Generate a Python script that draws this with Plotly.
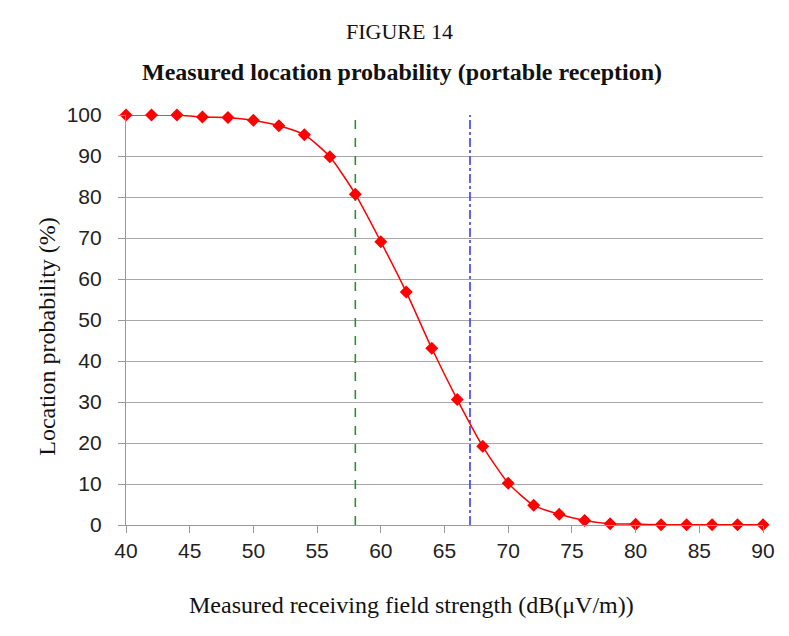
import plotly.graph_objects as go

field_strength = [40, 42, 44, 46, 48, 50, 52, 54, 56, 58, 60, 62, 64, 66, 68,
                  70, 72, 74, 76, 78, 80, 82, 84, 86, 88, 90]
location_prob = [100, 100, 100, 99.5, 99.4, 98.7, 97.4, 95.2, 89.8, 80.7, 69.1,
                 56.8, 43.1, 30.6, 19.2, 10.2, 4.8, 2.6, 1.1, 0.3, 0.2, 0.05,
                 0.05, 0.05, 0.05, 0.05]
green_x = 58
blue_x = 67
x_ticks = [40, 45, 50, 55, 60, 65, 70, 75, 80, 85, 90]
y_ticks = [0, 10, 20, 30, 40, 50, 60, 70, 80, 90, 100]

fig = go.Figure()
fig.add_trace(go.Scatter(
    x=[green_x, green_x], y=[0, 100], mode="lines",
    line=dict(color="#2f8f2f", width=1.6, dash="dash"), hoverinfo="skip"))
fig.add_trace(go.Scatter(
    x=[blue_x, blue_x], y=[0, 100], mode="lines",
    line=dict(color="#3a3aff", width=1.6, dash="dashdot"), hoverinfo="skip"))
fig.add_trace(go.Scatter(
    x=field_strength, y=location_prob, mode="lines+markers",
    line=dict(color="#ff0000", width=1.5, shape="spline", smoothing=0.6),
    marker=dict(symbol="diamond", size=10, color="#ff0000"),
    cliponaxis=False))

# page body has an 8px margin on each side; keep the figure inside the window
axis_font = dict(family="Liberation Sans, Arial", size=21, color="#222")
fig.update_layout(
    width=773, height=620,
    margin=dict(l=118, r=6, t=107, b=103),
    paper_bgcolor="white", plot_bgcolor="white",
    showlegend=False,
    xaxis=dict(range=[40, 90], tickvals=x_ticks, showgrid=False, zeroline=False,
               showline=True, linecolor="#999", linewidth=1.2,
               ticks="outside", ticklen=7, tickcolor="#999",
               tickfont=axis_font, ticklabeloverflow="allow"),
    yaxis=dict(range=[0, 100], tickvals=y_ticks, showgrid=True,
               gridcolor="#a8a8a8", gridwidth=1.2, zeroline=False,
               showline=True, linecolor="#999", linewidth=1.2,
               ticks="outside", ticklen=7, tickcolor="#999",
               tickfont=axis_font, ticklabelstandoff=12),
)

title_font = dict(family="Liberation Serif, Times New Roman", color="#111")
plot_h = 410
plot_w = 649


def px_x(px):
    return (px - 126) / plot_w


def px_y(py):
    return (525 - py) / plot_h


fig.add_annotation(text="FIGURE 14", xref="paper", yref="paper",
                   x=px_x(405), y=px_y(17),
                   showarrow=False, font=dict(title_font, size=22))
fig.add_annotation(text="<b>Measured location probability (portable reception)</b>",
                   xref="paper", yref="paper",
                   x=px_x(407), y=px_y(57),
                   showarrow=False, font=dict(title_font, size=24))
fig.add_annotation(text="Measured receiving field strength (dB(μV/m))",
                   xref="paper", yref="paper",
                   x=px_x(417), y=px_y(620),
                   showarrow=False, font=dict(title_font, size=24))
fig.add_annotation(text="Location probability (%)", textangle=-90,
                   xref="paper", yref="paper",
                   x=px_x(30), y=px_y(336),
                   showarrow=False, font=dict(title_font, size=24))

# widen the svg canvas up to the window edge so the "90" label is not cut
fig.write_html("out.html", config={"displayModeBar": False},
               post_script="document.querySelectorAll('.main-svg')"
                           ".forEach(function(s){s.setAttribute('width', 781);});"
                           "document.documentElement.style.overflow='hidden';")
